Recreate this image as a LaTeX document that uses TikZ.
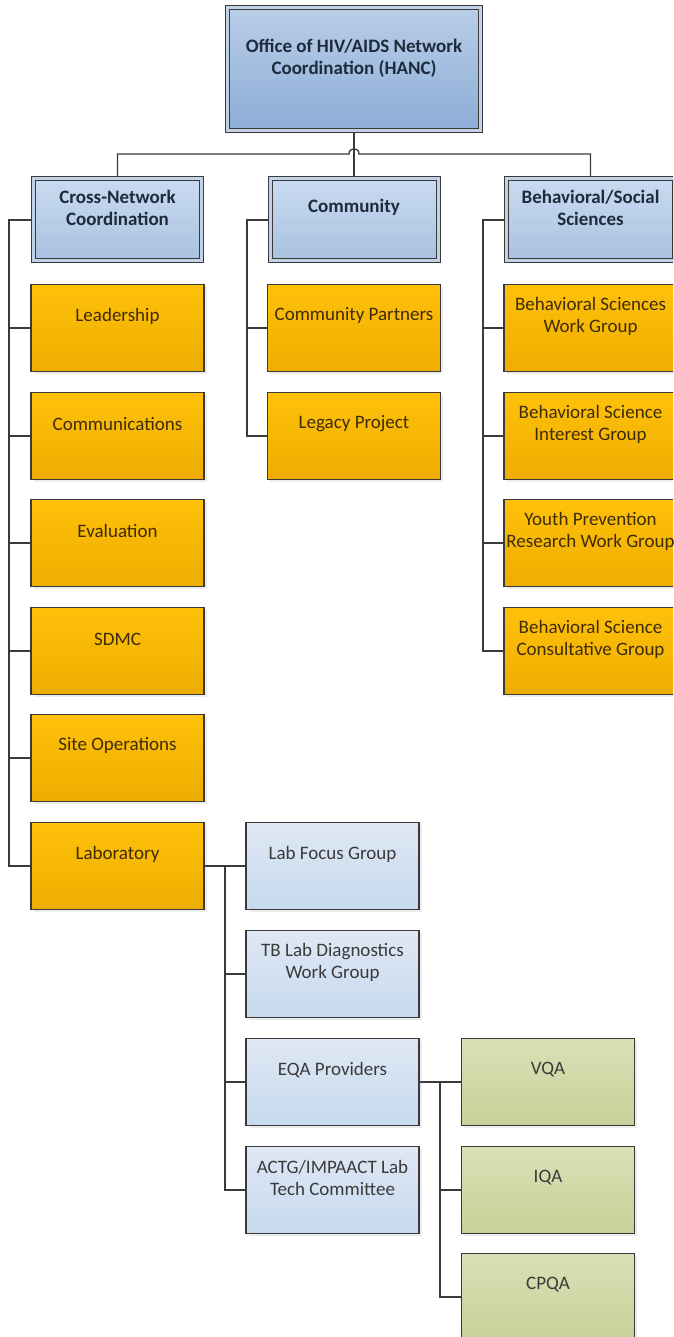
\documentclass[tikz,border=0pt]{standalone}
\usepackage{fontspec}
\setmainfont{Carlito}
\usetikzlibrary{shadows}
\pgfdeclarelayer{bg}
\pgfsetlayers{bg,main}
\definecolor{ln}{HTML}{3A3A3A}
\definecolor{orTop}{HTML}{FFC10A}
\definecolor{orBot}{HTML}{EEAD00}
\definecolor{orTxt}{HTML}{3E2C05}
\definecolor{bTop}{HTML}{C8DAF0}
\definecolor{bBot}{HTML}{A9C2E0}
\definecolor{bTxt}{HTML}{1E2B3C}
\definecolor{tTop}{HTML}{B9CEE8}
\definecolor{tBot}{HTML}{8CADD6}
\definecolor{dbl}{HTML}{C2D2E6}
\definecolor{lTop}{HTML}{DFE8F4}
\definecolor{lBot}{HTML}{C7D9EE}
\definecolor{gTop}{HTML}{D9E1B6}
\definecolor{gBot}{HTML}{C6D198}
\definecolor{gTxt}{HTML}{3A3A3A}
\begin{document}
\begin{tikzpicture}[x=1pt,y=-1pt,
  base/.style={rectangle, inner sep=0pt, minimum width=173pt, minimum height=87pt,
    draw=ln, line width=1.1pt,
    drop shadow={shadow xshift=2.5pt, shadow yshift=-2.5pt, opacity=0.15}},
  lbl/.style={anchor=center, yshift=-32pt, align=center, inner sep=0pt,
    font=\fontsize{19}{22}\selectfont},
  ob/.style={base, top color=orTop, bottom color=orBot,
    label={[lbl, text=orTxt]north:{#1}}},
  lb/.style={base, top color=lTop, bottom color=lBot,
    label={[lbl, text=gTxt]north:{#1}}},
  gb/.style={base, top color=gTop, bottom color=gBot,
    label={[lbl, text=gTxt]north:{#1}}},
  l1/.style={base, minimum width=168pt, minimum height=82pt, line width=1pt,
    double=dbl, double distance=3pt, top color=bTop, bottom color=bBot,
    label={[lbl, yshift=3pt, text=bTxt, font=\fontsize{19}{22}\selectfont\bfseries]north:{#1}}},
  tb/.style={base, minimum width=253pt, minimum height=123pt, line width=1pt,
    double=dbl, double distance=3pt, top color=tTop, bottom color=tBot,
    label={[lbl, yshift=-19pt, text=bTxt, font=\fontsize{19}{22}\selectfont\bfseries]north:{#1}}},
  conn/.style={draw=ln, line width=1.3pt}
]
\useasboundingbox (0,0) rectangle (673,1337);
\clip (0,0) rectangle (673,1337);

% top
\node[tb={Office of HIV/AIDS Network\\Coordination (HANC)}] (top) at (354,69) {};

% level 1
\node[l1={Cross-Network\\Coordination}] (cross) at (117.5,220) {};
\node[l1={Community}] (comm) at (354,220) {};
\node[l1={Behavioral/Social\\Sciences}] (behav) at (590.5,220) {};

% cross-network children
\node[ob={Leadership}] (lead) at (117.5,328) {};
\node[ob={Communications}] (commu) at (117.5,436) {};
\node[ob={Evaluation}] (eval) at (117.5,543) {};
\node[ob={SDMC}] (sdmc) at (117.5,651) {};
\node[ob={Site Operations}] (site) at (117.5,758) {};
\node[ob={Laboratory}] (lab) at (117.5,866) {};

% community children
\node[ob={Community Partners}] (cpart) at (354,328) {};
\node[ob={Legacy Project}] (legacy) at (354,436) {};

% behavioral children
\node[ob={Behavioral Sciences\\Work Group}] (bswg) at (590.5,328) {};
\node[ob={Behavioral Science\\Interest Group}] (bsig) at (590.5,436) {};
\node[ob={Youth Prevention\\Research Work Group}] (ypr) at (590.5,543) {};
\node[ob={Behavioral Science\\Consultative Group}] (bscg) at (590.5,651) {};

% lab children
\node[lb={Lab Focus Group}] (lfg) at (332.5,866) {};
\node[lb={TB Lab Diagnostics\\Work Group}] (tb) at (332.5,974) {};
\node[lb={EQA Providers}] (eqa) at (332.5,1082) {};
\node[lb={ACTG/IMPAACT Lab\\Tech Committee}] (actg) at (332.5,1190) {};

% EQA children
\node[gb={VQA}] (vqa) at (548,1082) {};
\node[gb={IQA}] (iqa) at (548,1190) {};
\node[gb={CPQA}] (cpqa) at (548,1297) {};

% bus coordinates
\coordinate (bus) at (0,154);
\coordinate (hopL) at (349,154);
\coordinate (hopR) at (359,154);
\coordinate (xb) at (9,0);
\coordinate (cb) at (247,0);
\coordinate (bb) at (483,0);
\coordinate (lbus) at (225,0);
\coordinate (ebus) at (440,0);

\begin{pgfonlayer}{bg}
\draw[conn] (top.south) -- (comm.north);
\draw[conn] (cross.north) -- (cross.north |- bus) -- (hopL)
  .. controls (349,147) and (359,147) .. (hopR) -- (behav.north |- bus) -- (behav.north);

\draw[conn] (cross.west) -- (cross.west -| xb) -- (lab.west -| xb) -- (lab.west);
\foreach \n in {lead,commu,eval,sdmc,site}
  \draw[conn] (\n.west -| xb) -- (\n.west);

\draw[conn] (comm.west) -- (comm.west -| cb) -- (legacy.west -| cb) -- (legacy.west);
\draw[conn] (cpart.west -| cb) -- (cpart.west);

\draw[conn] (behav.west) -- (behav.west -| bb) -- (bscg.west -| bb) -- (bscg.west);
\foreach \n in {bswg,bsig,ypr}
  \draw[conn] (\n.west -| bb) -- (\n.west);

\draw[conn] (lab.east) -- (lfg.west);
\draw[conn] (lab.east -| lbus) -- (actg.west -| lbus) -- (actg.west);
\foreach \n in {tb,eqa}
  \draw[conn] (\n.west -| lbus) -- (\n.west);

\draw[conn] (eqa.east) -- (vqa.west);
\draw[conn] (eqa.east -| ebus) -- (cpqa.west -| ebus) -- (cpqa.west);
\draw[conn] (iqa.west -| ebus) -- (iqa.west);
\end{pgfonlayer}
\end{tikzpicture}
\end{document}
